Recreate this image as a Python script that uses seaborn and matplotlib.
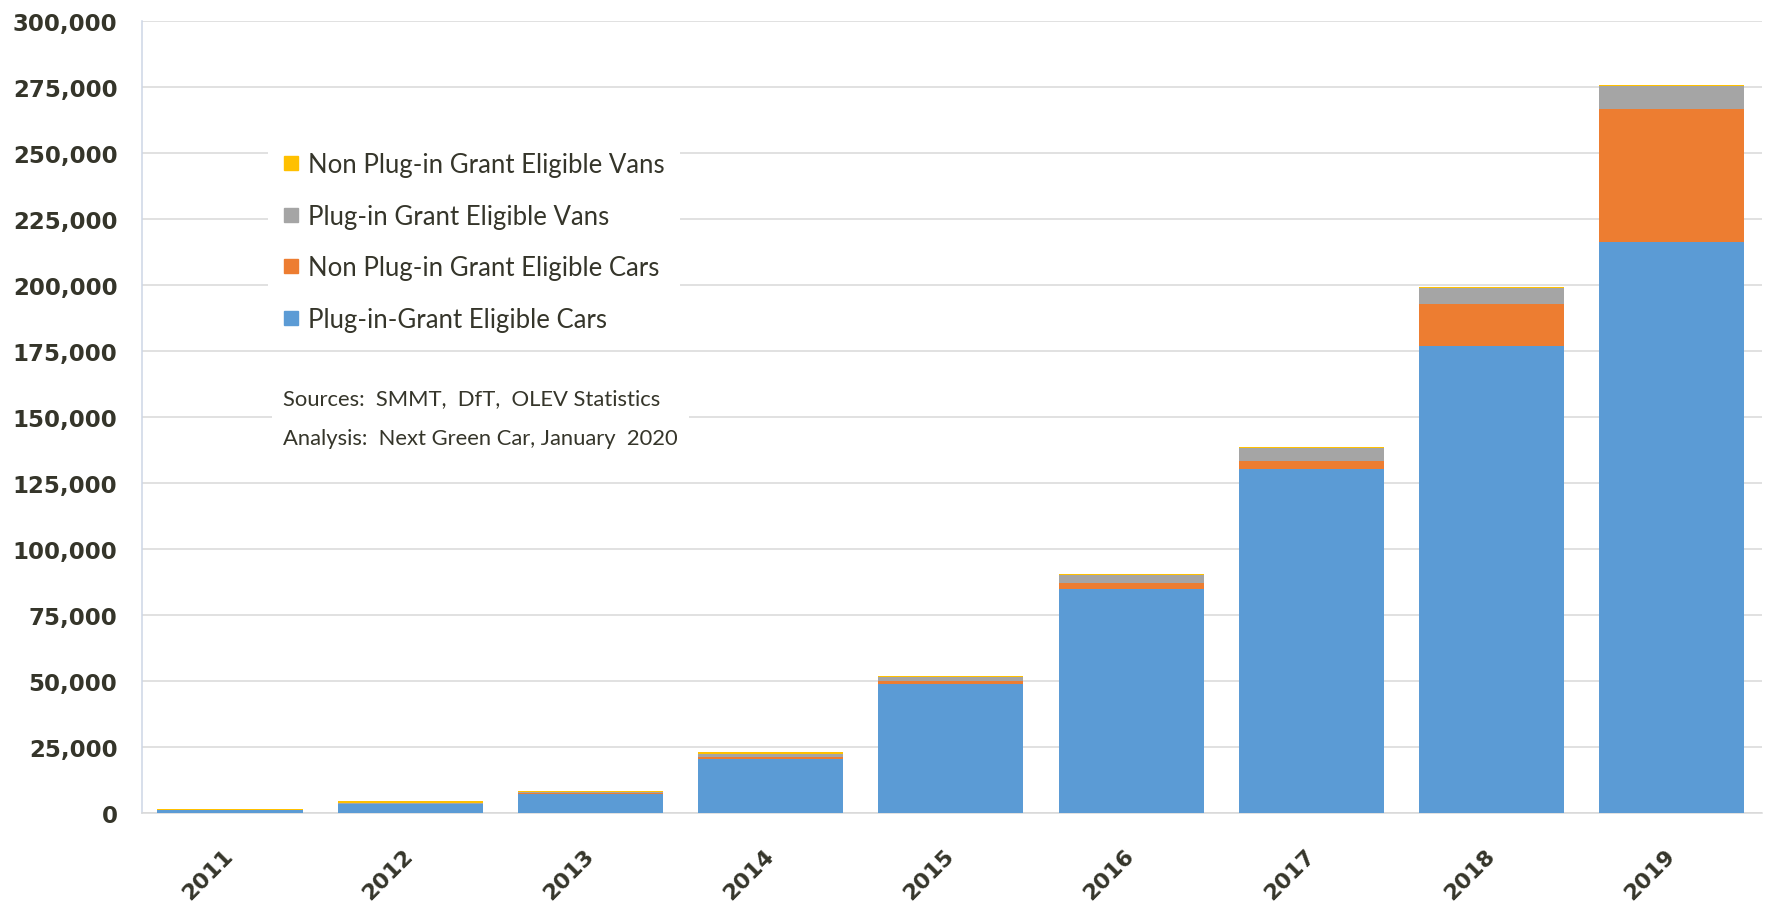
import matplotlib
matplotlib.use("Agg")
import matplotlib.pyplot as plt
import seaborn as sns
import pandas as pd
from matplotlib.lines import Line2D
from matplotlib.ticker import FuncFormatter, FixedLocator

# ---- data (vehicles) ----
years = ["2011", "2012", "2013", "2014", "2015", "2016", "2017", "2018", "2019"]
plugin_cars = [1000, 3400, 7200, 20500, 48900, 84800, 130300, 177000, 216200]
non_plugin_cars = [100, 100, 300, 900, 1200, 2300, 3100, 15800, 50500]
plugin_vans = [100, 200, 400, 1100, 1500, 3000, 4700, 5900, 8500]
non_plugin_vans = [300, 1000, 300, 500, 400, 400, 400, 400, 500]

series_names = ["Plug-in-Grant Eligible Cars", "Non Plug-in Grant Eligible Cars",
                "Plug-in Grant Eligible Vans", "Non Plug-in Grant Eligible Vans"]
colors = ["#5B9BD5", "#ED7D31", "#A5A5A5", "#FFC000"]
y_ticks = list(range(0, 300001, 25000))
source_lines = ["Sources:  SMMT,  DfT,  OLEV Statistics", "Analysis:  Next Green Car, January  2020"]

df = pd.DataFrame({"year": years, series_names[0]: plugin_cars, series_names[1]: non_plugin_cars,
                   series_names[2]: plugin_vans, series_names[3]: non_plugin_vans})
cum = df[series_names].cumsum(axis=1)
cum["year"] = df["year"]

sns.set_style("white")
plt.rcParams["font.family"] = ["Lato", "DejaVu Sans"]

W, H = 1772, 903
fig = plt.figure(figsize=(W / 100, H / 100), dpi=100)
left_px, right_px, top_px, bot_px = 141.7, 1762, 22, 814
ax = fig.add_axes([left_px / W, 1 - bot_px / H, (right_px - left_px) / W, (bot_px - top_px) / H])

# stacked bars: draw cumulative totals from the top layer down
for name, col in reversed(list(zip(series_names, colors))):
    sns.barplot(data=cum, x="year", y=name, color=col, saturation=1, width=0.805,
                errorbar=None, ax=ax, linewidth=0, zorder=3)

ax.set_xlim(-0.49, 8.5)
ax.set_ylim(0, 300000)
ax.set_xlabel("")
ax.set_ylabel("")

txt_col = "#35352a"
grid_col = "#D9D9D9"
ax.yaxis.set_major_locator(FixedLocator(y_ticks))
ax.yaxis.set_major_formatter(FuncFormatter(lambda v, p: f"{int(v):,}"))
ax.yaxis.grid(True, color=grid_col, lw=1.1, zorder=0)
ax.set_axisbelow(True)
ax.tick_params(axis="y", length=6.5, width=1.1, color=grid_col, pad=11, labelsize=16.5,
               labelcolor=txt_col)
for t in ax.get_yticklabels():
    t.set_fontfamily("DejaVu Sans")
    t.set_fontweight("bold")

ax.set_xticks(range(len(years)))
ax.set_xticklabels(years, rotation=45, ha="right", va="center", rotation_mode="anchor",
                   fontsize=16, fontweight="bold", color=txt_col, fontfamily="DejaVu Sans")
ax.tick_params(axis="x", which="major", length=0, pad=28)
ax.xaxis.set_minor_locator(FixedLocator([i - 0.5 for i in range(len(years) + 1)]))
ax.tick_params(axis="x", which="minor", length=5, width=1.1, color=grid_col)

for s in ["top", "right"]:
    ax.spines[s].set_visible(False)
ax.spines["left"].set_color("#CDD6E6")
ax.spines["left"].set_linewidth(1.1)
ax.spines["bottom"].set_color(grid_col)
ax.spines["bottom"].set_linewidth(1.1)

# legend (top layer first)
handles = [Line2D([], [], marker="s", ls="", color=c, markersize=10)
           for c in reversed(colors)]
leg = ax.legend(handles, list(reversed(series_names)), loc="center left",
                bbox_to_anchor=(268 / W, 1 - 243 / H), bbox_transform=fig.transFigure,
                borderaxespad=0, borderpad=0.6, labelspacing=1.05, handlelength=0.6,
                handletextpad=0.35, fontsize=18.5, frameon=True, fancybox=False,
                facecolor="white", edgecolor="none", framealpha=1)
for t in leg.get_texts():
    t.set_color(txt_col)
leg.set_zorder(5)

fig.text(283 / W, 1 - 419 / H, "\n".join(source_lines), ha="left", va="center",
         fontsize=15.8, color=txt_col, linespacing=2.3,
         bbox=dict(fc="white", ec="none", pad=8), zorder=5)

fig.savefig("out.png", dpi=100, facecolor="white")
